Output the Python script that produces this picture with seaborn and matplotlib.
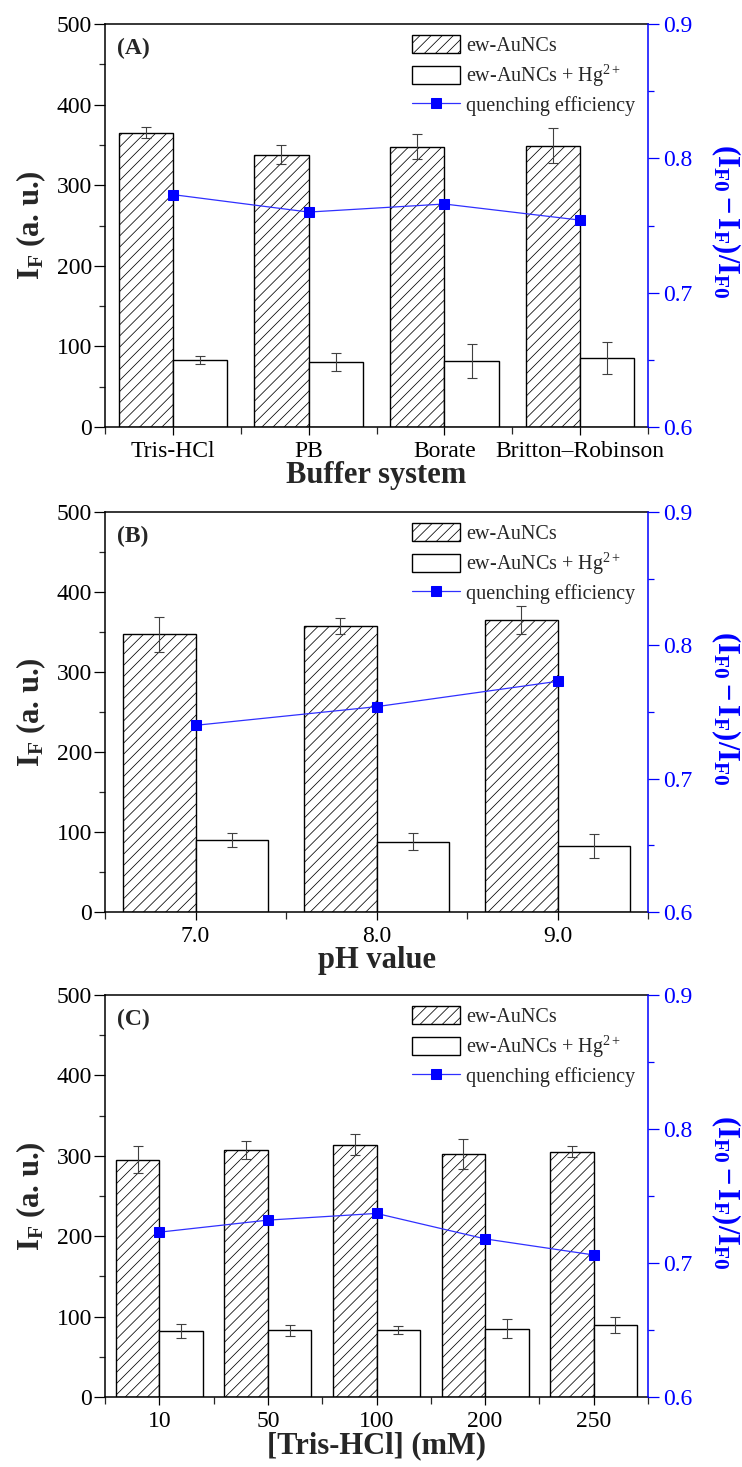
import numpy as np
import pandas as pd
import matplotlib
matplotlib.use("Agg")
import matplotlib.pyplot as plt
from matplotlib.ticker import MultipleLocator, FixedLocator
import seaborn as sns

# ---- data -------------------------------------------------------------
LBL_NATIVE = "ew-AuNCs"
LBL_HG = "ew-AuNCs + Hg$^{2+}$"
LBL_QE = "quenching efficiency"

buffers = ["Tris-HCl", "PB", "Borate", "Britton\u2013Robinson"]
buf_native = [365, 338, 348, 349]
buf_native_err = [7, 12, 15, 22]
buf_hg = [83, 81, 82, 86]
buf_hg_err = [5, 11, 21, 20]
buf_qe = [0.773, 0.760, 0.766, 0.754]

ph_values = ["7.0", "8.0", "9.0"]
ph_native = [347, 358, 365]
ph_native_err = [22, 10, 17]
ph_hg = [90, 88, 82]
ph_hg_err = [9, 11, 15]
ph_qe = [0.740, 0.754, 0.773]

tris_conc = ["10", "50", "100", "200", "250"]
tris_native = [295, 307, 314, 302, 305]
tris_native_err = [17, 11, 13, 19, 7]
tris_hg = [82, 83, 83, 85, 90]
tris_hg_err = [9, 7, 5, 12, 10]
tris_qe = [0.723, 0.732, 0.737, 0.718, 0.706]

# ---- style ------------------------------------------------------------
sns.set_theme(style="ticks")
plt.rcParams["font.family"] = ["Liberation Serif", "DejaVu Serif"]
plt.rcParams.update({
    "mathtext.fontset": "custom",
    "mathtext.rm": "Liberation Serif",
    "mathtext.it": "Liberation Serif:italic",
    "mathtext.bf": "Liberation Serif:bold",
    "hatch.linewidth": 0.55,
    "axes.linewidth": 1.1,
})

BLUE = "#0000ff"
TICK_FS = 17
LABEL_FS = 22


def draw_panel(ax, cats, native, native_err, hg, hg_err, qe, tag, xlabel):
    n = len(cats)
    df = pd.DataFrame({
        "cat": list(cats) * 2,
        "value": list(native) + list(hg),
        "sample": [LBL_NATIVE] * n + [LBL_HG] * n,
    })
    sns.barplot(data=df, x="cat", y="value", hue="sample", order=cats,
                hue_order=[LBL_NATIVE, LBL_HG], palette=["white", "white"],
                saturation=1, edgecolor="black", linewidth=1.0,
                errorbar=None, width=0.8, legend=False, ax=ax, zorder=2)

    # hatched bars for the native clusters, error bars from the bar geometry
    for k, (cont, errs) in enumerate(zip(ax.containers, [native_err, hg_err])):
        if k == 0:
            for p in cont.patches:
                p.set_hatch("///")
        xs = [p.get_x() + p.get_width() / 2 for p in cont.patches]
        ys = [p.get_height() for p in cont.patches]
        ax.errorbar(xs, ys, yerr=errs, fmt="none", ecolor="#404040",
                    elinewidth=0.8, capsize=3.5, capthick=0.8, zorder=3)

    ax2 = ax.twinx()
    sns.lineplot(x=np.arange(n), y=qe, ax=ax2, color="#3030ff", linewidth=0.9,
                 marker="s", markersize=6.5, markerfacecolor=BLUE,
                 markeredgecolor=BLUE, label=LBL_QE, legend=False)

    ax.set_xlim(-0.5, n - 0.5)
    ax.set_ylim(0, 500)
    ax2.set_ylim(0.6, 0.9)

    ax.yaxis.set_major_locator(MultipleLocator(100))
    ax.yaxis.set_minor_locator(MultipleLocator(50))
    ax.xaxis.set_minor_locator(FixedLocator(np.arange(-0.5, n, 1.0)))
    ax2.yaxis.set_major_locator(MultipleLocator(0.1))
    ax2.yaxis.set_minor_locator(MultipleLocator(0.05))

    ax.tick_params(axis="x", which="major", direction="out", length=6,
                   width=0.9, pad=4, labelsize=TICK_FS, colors="black")
    ax.tick_params(axis="x", which="minor", direction="out", length=5,
                   width=0.9, bottom=True)
    ax.tick_params(axis="y", which="major", direction="out", length=8,
                   width=0.9, pad=1.5, labelsize=TICK_FS, colors="black")
    ax.tick_params(axis="y", which="minor", direction="out", length=4,
                   width=0.9, left=True)
    ax2.tick_params(axis="y", which="major", direction="out", length=8,
                    width=0.9, pad=3, labelsize=TICK_FS, colors=BLUE)
    ax2.tick_params(axis="y", which="minor", direction="out", length=4,
                    width=0.9, colors=BLUE)

    for s in ("left", "top", "bottom"):
        ax.spines[s].set_color("black")
        ax.spines[s].set_linewidth(1.1)
        ax2.spines[s].set_visible(False)
    ax.spines["right"].set_visible(False)
    ax2.spines["right"].set_color(BLUE)
    ax2.spines["right"].set_linewidth(1.1)

    ax.set_xlabel(xlabel, fontsize=LABEL_FS, fontweight="bold")
    ax.xaxis.set_label_coords(0.5, -0.085)
    ax.set_ylabel(r"$\mathbf{I_F}$ (a. u.)", fontsize=LABEL_FS, fontweight="bold")
    ax.yaxis.set_label_coords(-0.105, 0.5)
    ax2.set_ylabel(r"$\mathbf{(I_{F0} - I_F)/I_{F0}}$", fontsize=LABEL_FS,
                   fontweight="bold", color=BLUE, rotation=270, va="bottom")
    ax2.yaxis.set_label_coords(1.112, 0.51)

    ax.text(0.022, 0.94, tag, transform=ax.transAxes, fontsize=17,
            fontweight="bold", va="center", ha="left")

    handles = [ax.containers[0].patches[0], ax.containers[1].patches[0], ax2.lines[0]]
    ax2.legend(handles, [LBL_NATIVE, LBL_HG, LBL_QE], loc="upper left",
               bbox_to_anchor=(0.545, 1.0), frameon=False, fontsize=14.5,
               handlelength=2.4, handleheight=1.0, handletextpad=0.3,
               labelspacing=0.32, borderaxespad=0.3, borderpad=0.25)


fig = plt.figure(figsize=(7.42, 14.67), dpi=100)
left, width = 105 / 742, 543 / 742
H = 1467
panels = [
    (24, 427, buffers, buf_native, buf_native_err, buf_hg, buf_hg_err, buf_qe,
     "(A)", "Buffer system"),
    (512, 912, ph_values, ph_native, ph_native_err, ph_hg, ph_hg_err, ph_qe,
     "(B)", "pH value"),
    (995, 1397, tris_conc, tris_native, tris_native_err, tris_hg, tris_hg_err,
     tris_qe, "(C)", "[Tris-HCl] (mM)"),
]
for top, bottom, *args in panels:
    ax = fig.add_axes([left, 1 - bottom / H, width, (bottom - top) / H])
    draw_panel(ax, *args)

fig.savefig("out.png", dpi=100, facecolor="white")
